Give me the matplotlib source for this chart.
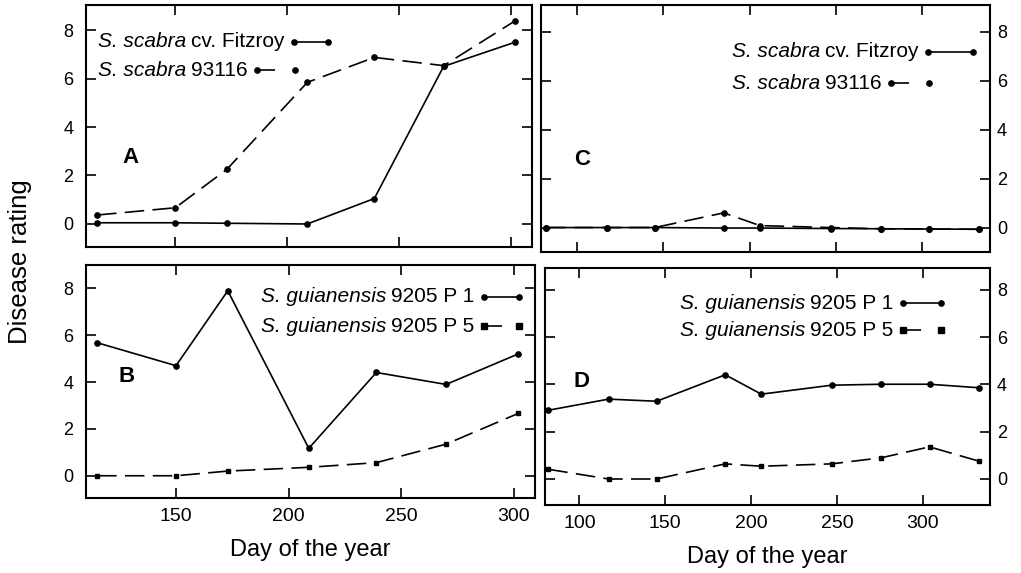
import matplotlib
matplotlib.use("Agg")
import matplotlib.pyplot as plt
from matplotlib.lines import Line2D
from matplotlib.offsetbox import TextArea, DrawingArea, HPacker, AnchoredOffsetbox

plt.rcParams['font.family'] = ['Liberation Sans', 'DejaVu Sans']
plt.rcParams['lines.scale_dashes'] = False

# sampling days (left column: panels A, B; right column: panels C, D)
days_left = [115, 150, 173, 209, 239, 270, 302]
days_right = [82, 117, 145, 185, 206, 247, 276, 304, 333]

# S. scabra disease ratings
fitzroy_A = [0.05, 0.05, 0.03, 0.0, 1.05, 6.5, 7.5]
s93116_A = [0.37, 0.67, 2.25, 5.84, 6.87, 6.53, 8.38]
fitzroy_C = [0.0, 0.0, 0.0, -0.02, -0.02, -0.04, -0.05, -0.06, -0.07]
s93116_C = [0.0, 0.0, 0.0, 0.6, 0.08, 0.0, -0.05, -0.06, -0.07]

# S. guianensis 9205 disease ratings
p1_B = [5.68, 4.70, 7.90, 1.17, 4.41, 3.90, 5.2]
p5_B = [0.0, 0.0, 0.2, 0.36, 0.56, 1.35, 2.66]
p1_D = [2.91, 3.38, 3.29, 4.41, 3.59, 3.97, 4.01, 4.01, 3.86]
p5_D = [0.41, 0.0, 0.0, 0.64, 0.54, 0.64, 0.9, 1.36, 0.75]

# key labels: (italic species name, plain rest)
scabra_labels = [('S. scabra', 'cv. Fitzroy'), ('S. scabra', '93116')]
guian_labels = [('S. guianensis', '9205 P 1'), ('S. guianensis', '9205 P 5')]
panel_letters = ['A', 'B', 'C', 'D']
y_ticks = [0, 2, 4, 6, 8]
x_ticks_left = [150, 200, 250, 300]
x_ticks_right = [100, 150, 200, 250, 300]

DASH = (14, 6)
LW = 1.2
MS = 3.8


def style_axes(ax, xlim, ylim, xticks, right_side, show_x):
    ax.set_xlim(*xlim)
    ax.set_ylim(*ylim)
    ax.set_xticks(xticks)
    ax.set_yticks(y_ticks)
    for sp in ax.spines.values():
        sp.set_linewidth(1.5)
    ax.tick_params(direction='in', length=7, width=1.2, top=True, right=True,
                   labelleft=not right_side, labelright=right_side,
                   labelbottom=show_x)
    ax.tick_params(axis='y', labelsize=13, pad=9 if not right_side else 5)
    ax.tick_params(axis='x', labelsize=14, pad=7)


def add_key(ax, label, dashed, marker, x, y, length):
    species = TextArea(label[0], textprops=dict(fontsize=15, style='italic'))
    rest = TextArea(label[1], textprops=dict(fontsize=15))
    box = DrawingArea(length, 8, 0, 0)
    line = Line2D([0, length], [4, 4], color='black', lw=LW, marker=marker, ms=MS)
    if dashed:
        line.set_dashes((13, 40))
    box.add_artist(line)
    words = HPacker(children=[species, rest], align='baseline', pad=0, sep=3.5)
    row = HPacker(children=[words, box], align='center', pad=0, sep=7)
    anchored = AnchoredOffsetbox(loc='center left', child=row, pad=0, borderpad=0,
                                 frameon=False, bbox_to_anchor=(x, y),
                                 bbox_transform=ax.transAxes)
    ax.add_artist(anchored)


fig = plt.figure(figsize=(10.21, 5.73), dpi=100)
axA = fig.add_axes([0.0842, 0.5689, 0.4368, 0.4223])
axB = fig.add_axes([0.0842, 0.1309, 0.4398, 0.4066])
axC = fig.add_axes([0.5299, 0.5602, 0.4398, 0.4311])
axD = fig.add_axes([0.5338, 0.1187, 0.4358, 0.4136])

# panel A
axA.plot(days_left, fitzroy_A, color='black', lw=LW, marker='o', ms=MS)
axA.plot(days_left, s93116_A, color='black', lw=LW, dashes=DASH, marker='o', ms=MS)
style_axes(axA, (110, 309.5), (-0.95, 9.03), x_ticks_left, False, False)
add_key(axA, scabra_labels[0], False, 'o', 0.027, 0.848, 24)
add_key(axA, scabra_labels[1], True, 'o', 0.027, 0.73, 27)

# panel B
axB.plot(days_left, p1_B, color='black', lw=LW, marker='o', ms=MS)
axB.plot(days_left, p5_B, color='black', lw=LW, dashes=DASH, marker='s', ms=MS - 0.6)
style_axes(axB, (110, 309.5), (-0.95, 9.0), x_ticks_left, False, True)
add_key(axB, guian_labels[0], False, 'o', 0.389, 0.864, 25)
add_key(axB, guian_labels[1], True, 's', 0.389, 0.738, 25)

# panel C
axC.plot(days_right, fitzroy_C, color='black', lw=LW, marker='o', ms=MS)
axC.plot(days_right, s93116_C, color='black', lw=LW, dashes=DASH, marker='o', ms=MS)
style_axes(axC, (79, 339.5), (-1.0, 9.1), x_ticks_right, True, False)
add_key(axC, scabra_labels[0], False, 'o', 0.425, 0.81, 32)
add_key(axC, scabra_labels[1], True, 'o', 0.425, 0.683, 27)

# panel D
axD.plot(days_right, p1_D, color='black', lw=LW, marker='o', ms=MS)
axD.plot(days_right, p5_D, color='black', lw=LW, dashes=DASH, marker='s', ms=MS - 0.6)
style_axes(axD, (80, 339.2), (-1.1, 8.93), x_ticks_right, True, True)
add_key(axD, guian_labels[0], False, 'o', 0.303, 0.851, 27)
add_key(axD, guian_labels[1], True, 's', 0.303, 0.738, 27)

letter_pos = [(0.10, 0.37), (0.091, 0.52), (0.091, 0.376), (0.083, 0.52)]
for ax, letter, (lx, ly) in zip([axA, axB, axC, axD], panel_letters, letter_pos):
    ax.text(lx, ly, letter, transform=ax.transAxes, fontsize=16,
            fontweight='bold', ha='center', va='center')

axB.set_xlabel('Day of the year', fontsize=17, labelpad=10)
axD.set_xlabel('Day of the year', fontsize=17, labelpad=10)
fig.text(0.0196, 0.543, 'Disease rating', rotation=90, fontsize=18.5,
         ha='center', va='center')

fig.savefig('out.png', dpi=100)
